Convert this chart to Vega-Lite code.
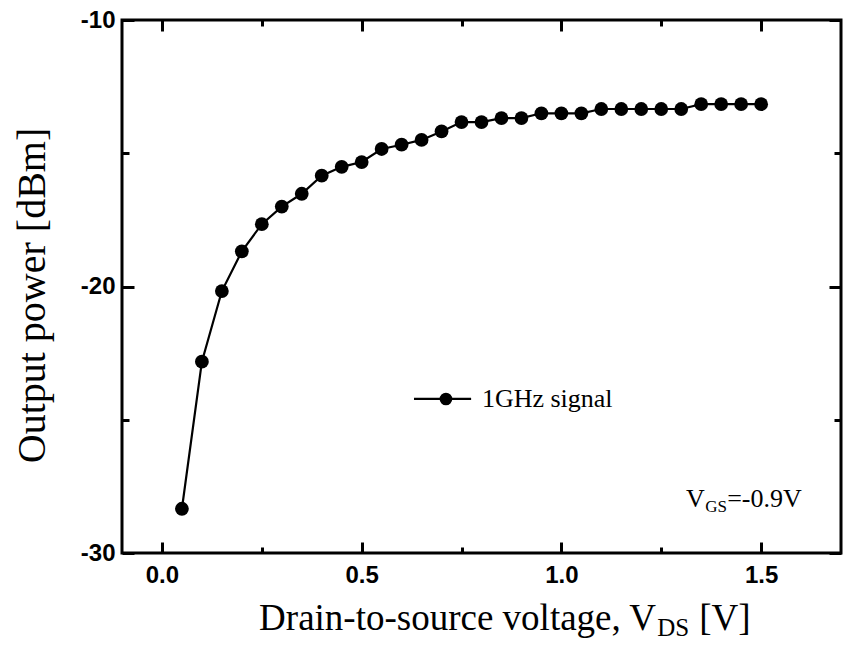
{
  "$schema": "https://vega.github.io/schema/vega-lite/v6.json",
  "width": 719,
  "height": 533,
  "autosize": {"type": "none"},
  "padding": {"left": 122, "top": 20, "right": 2, "bottom": 97},
  "background": "white",
  "config": {
    "view": {"stroke": "black", "strokeWidth": 3},
    "axis": {
      "domain": false,
      "grid": false,
      "tickColor": "black",
      "tickWidth": 3,
      "labelFont": "Liberation Sans",
      "labelFontWeight": "bold",
      "labelFontSize": 24,
      "labelColor": "black"
    }
  },
  "data": {
    "values": [
      {"vds": 0.05, "p": -28.34},
      {"vds": 0.10, "p": -22.82},
      {"vds": 0.15, "p": -20.17},
      {"vds": 0.20, "p": -18.68},
      {"vds": 0.25, "p": -17.66},
      {"vds": 0.30, "p": -17.00},
      {"vds": 0.35, "p": -16.52},
      {"vds": 0.40, "p": -15.84},
      {"vds": 0.45, "p": -15.51},
      {"vds": 0.50, "p": -15.33},
      {"vds": 0.55, "p": -14.84},
      {"vds": 0.60, "p": -14.68},
      {"vds": 0.65, "p": -14.50},
      {"vds": 0.70, "p": -14.18},
      {"vds": 0.75, "p": -13.83},
      {"vds": 0.80, "p": -13.83},
      {"vds": 0.85, "p": -13.68},
      {"vds": 0.90, "p": -13.68},
      {"vds": 0.95, "p": -13.50},
      {"vds": 1.00, "p": -13.50},
      {"vds": 1.05, "p": -13.50},
      {"vds": 1.10, "p": -13.34},
      {"vds": 1.15, "p": -13.34},
      {"vds": 1.20, "p": -13.34},
      {"vds": 1.25, "p": -13.34},
      {"vds": 1.30, "p": -13.34},
      {"vds": 1.35, "p": -13.16},
      {"vds": 1.40, "p": -13.16},
      {"vds": 1.45, "p": -13.16},
      {"vds": 1.50, "p": -13.16}
    ]
  },
  "layer": [
    {
      "mark": {"type": "line", "color": "black", "strokeWidth": 2.2},
      "encoding": {
        "x": {
          "field": "vds", "type": "quantitative",
          "scale": {"domain": [-0.1, 1.7], "nice": false, "zero": false},
          "axis": {
            "orient": "bottom",
            "values": [0, 0.25, 0.5, 0.75, 1, 1.25, 1.5],
            "labelExpr": "datum.value % 0.5 === 0 ? format(datum.value, '.1f') : ''",
            "tickSize": {"condition": {"test": "datum.value % 0.5 === 0", "value": -11}, "value": -6},
            "labelPadding": 21,
            "title": null
          }
        },
        "y": {
          "field": "p", "type": "quantitative",
          "scale": {"domain": [-30, -10], "nice": false, "zero": false},
          "axis": {
            "orient": "left",
            "values": [-30, -25, -20, -15, -10],
            "labelExpr": "datum.value % 10 === 0 ? '' + datum.value : ''",
            "tickSize": {"condition": {"test": "datum.value % 10 === 0", "value": -12}, "value": -7},
            "labelPadding": 19,
            "title": "Output power [dBm]",
            "titleFont": "Liberation Serif",
            "titleFontSize": 40,
            "titleFontWeight": "normal",
            "titleColor": "black",
            "titleAngle": 270,
            "titleAlign": "center",
            "titleBaseline": "alphabetic",
            "titleX": -78,
            "titleY": 275
          }
        }
      }
    },
    {
      "mark": {"type": "point", "filled": true, "color": "black", "opacity": 1, "size": 190},
      "encoding": {
        "x": {
          "field": "vds", "type": "quantitative",
          "axis": {
            "orient": "top",
            "values": [0, 0.25, 0.5, 0.75, 1, 1.25, 1.5],
            "labels": false,
            "tickSize": {"condition": {"test": "datum.value % 0.5 === 0", "value": -11}, "value": -6},
            "title": null
          }
        },
        "y": {
          "field": "p", "type": "quantitative",
          "axis": {
            "orient": "right",
            "values": [-30, -25, -20, -15, -10],
            "labels": false,
            "tickSize": {"condition": {"test": "datum.value % 10 === 0", "value": -12}, "value": -7},
            "title": null
          }
        }
      }
    },
    {
      "data": {"values": [{}]},
      "mark": {"type": "rule", "color": "black", "strokeWidth": 2.2},
      "encoding": {
        "x": {"datum": 0.631, "type": "quantitative", "axis": null},
        "x2": {"datum": 0.774},
        "y": {"datum": -24.22, "type": "quantitative", "axis": null}
      }
    },
    {
      "data": {"values": [{}]},
      "mark": {"type": "point", "filled": true, "color": "black", "opacity": 1, "size": 160},
      "encoding": {
        "x": {"datum": 0.711, "type": "quantitative", "axis": null},
        "y": {"datum": -24.22, "type": "quantitative", "axis": null}
      }
    },
    {
      "data": {"values": [{}]},
      "mark": {"type": "text", "font": "Liberation Serif", "fontSize": 26, "align": "left", "baseline": "alphabetic", "color": "black"},
      "encoding": {
        "x": {"datum": 0.801, "type": "quantitative", "axis": null},
        "y": {"datum": -24.52, "type": "quantitative", "axis": null},
        "text": {"value": "1GHz signal"}
      }
    },
    {
      "data": {"values": [{}]},
      "mark": {"type": "text", "font": "Liberation Serif", "fontSize": 26, "align": "left", "baseline": "alphabetic", "color": "black"},
      "encoding": {
        "x": {"datum": 1.312, "type": "quantitative", "axis": null},
        "y": {"datum": -28.27, "type": "quantitative", "axis": null},
        "text": {"value": "V"}
      }
    },
    {
      "data": {"values": [{}]},
      "mark": {"type": "text", "font": "Liberation Serif", "fontSize": 17, "align": "left", "baseline": "alphabetic", "color": "black"},
      "encoding": {
        "x": {"datum": 1.360, "type": "quantitative", "axis": null},
        "y": {"datum": -28.46, "type": "quantitative", "axis": null},
        "text": {"value": "GS"}
      }
    },
    {
      "data": {"values": [{}]},
      "mark": {"type": "text", "font": "Liberation Serif", "fontSize": 26, "align": "left", "baseline": "alphabetic", "color": "black"},
      "encoding": {
        "x": {"datum": 1.415, "type": "quantitative", "axis": null},
        "y": {"datum": -28.27, "type": "quantitative", "axis": null},
        "text": {"value": "=-0.9V"}
      }
    },
    {
      "data": {"values": [{}]},
      "mark": {"type": "text", "font": "Liberation Serif", "fontSize": 37, "align": "right", "baseline": "alphabetic", "color": "black"},
      "encoding": {
        "x": {"datum": 1.237, "type": "quantitative", "axis": null},
        "y": {"datum": -32.9, "type": "quantitative", "axis": null},
        "text": {"value": "Drain-to-source voltage, V"}
      }
    },
    {
      "data": {"values": [{}]},
      "mark": {"type": "text", "font": "Liberation Serif", "fontSize": 25, "align": "left", "baseline": "alphabetic", "color": "black"},
      "encoding": {
        "x": {"datum": 1.240, "type": "quantitative", "axis": null},
        "y": {"datum": -33.12, "type": "quantitative", "axis": null},
        "text": {"value": "DS"}
      }
    },
    {
      "data": {"values": [{}]},
      "mark": {"type": "text", "font": "Liberation Serif", "fontSize": 37, "align": "left", "baseline": "alphabetic", "color": "black"},
      "encoding": {
        "x": {"datum": 1.345, "type": "quantitative", "axis": null},
        "y": {"datum": -32.9, "type": "quantitative", "axis": null},
        "text": {"value": "[V]"}
      }
    }
  ],
  "resolve": {"axis": {"x": "independent", "y": "independent"}}
}
